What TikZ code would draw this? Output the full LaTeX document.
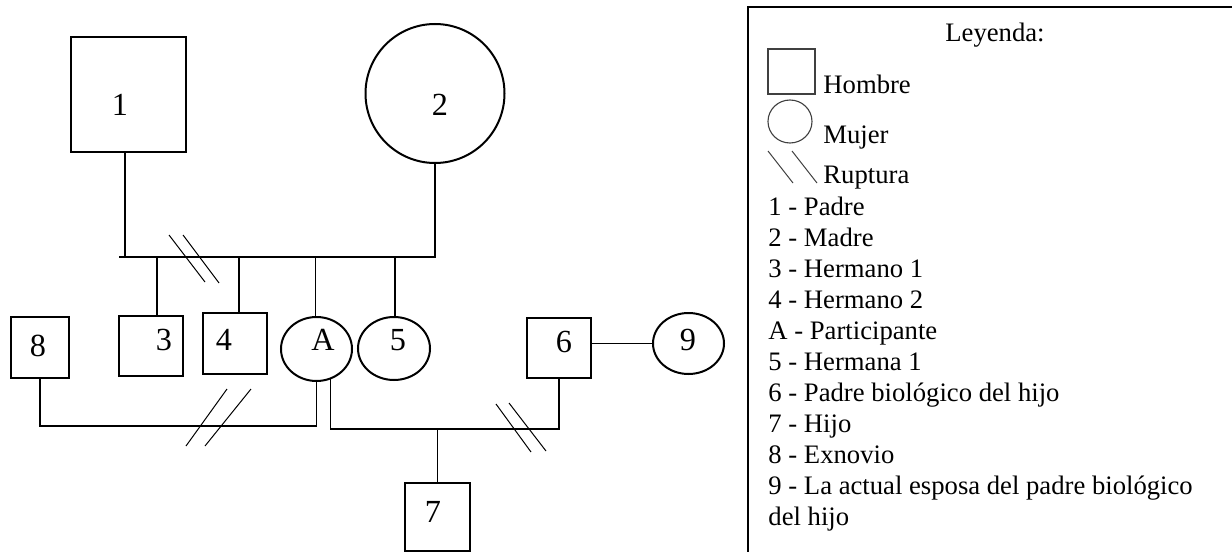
\documentclass[tikz,border=0pt]{standalone}
\usepackage{fontspec}
\setmainfont{Liberation Serif}
\usetikzlibrary{shapes.geometric}

\tikzset{
  hombre/.style 2 args={draw, rectangle, line width=0.9pt, inner sep=0pt, outer sep=0pt,
    minimum width=#1*0.45pt, minimum height=#2*0.45pt},
  mujer/.style 2 args={draw, ellipse, line width=0.9pt, inner sep=0pt, outer sep=0pt,
    minimum width=#1*0.45pt, minimum height=#2*0.45pt},
  etiqueta/.style={inner sep=0pt, font=\fontsize{14.5}{16}\selectfont},
  leyenda/.style={anchor=base west, inner sep=0pt, font=\fontsize{12}{14}\selectfont},
  simbolo/.style={draw=black!75, line width=0.5pt, inner sep=0pt, outer sep=0pt},
  enlace/.style={line width=0.5pt},
  ruptura/.style={line width=0.45pt}
}

\begin{document}
\begin{tikzpicture}[x=0.45pt, y=-0.45pt]

    \useasboundingbox (0,0) rectangle (1232,552);

    % Padres
    \node[hombre={115}{115}] (p1) at (128.5,94.5) {};
    \node[mujer={139}{139}] (p2) at (435,93.5) {};

    % Hermanos y participante
    \node[hombre={64}{60}] (h1) at (151,346) {};
    \node[hombre={64}{61}] (h2) at (235,343.5) {};
    \node[mujer={71}{64}] (pa) at (316.5,349) {};
    \node[mujer={72}{63}] (s1) at (394,348.5) {};

    % Parejas e hijo
    \node[hombre={58}{61}] (ex) at (40,347.5) {};
    \node[hombre={64}{60}] (bf) at (559,348) {};
    \node[mujer={71}{61}] (w9) at (688.5,343.5) {};
    \node[hombre={65}{68}] (ch) at (437.5,517) {};

    % Numeros
    \node[etiqueta] (t1) at (120,105) {1};
    \node[etiqueta] (t2) at (440,105) {2};
    \node[etiqueta] (t3) at (164,340) {3};
    \node[etiqueta] (t4) at (224,340) {4};
    \node[etiqueta] (tA) at (323,340) {A};
    \node[etiqueta] (t5) at (398,340) {5};
    \node[etiqueta] (t8) at (38,346) {8};
    \node[etiqueta] (t6) at (564,342) {6};
    \node[etiqueta] (t9) at (688,340) {9};
    \node[etiqueta] (t7) at (433,512) {7};

    % Linea de los padres
    \coordinate (tl) at (119,257);
    \draw[enlace] (p2.south) |- (tl);
    \draw[enlace] ([xshift=-1.6pt]p1.south) -- ([xshift=-1.6pt]p1.south |- tl);
    \foreach \n/\dx in {h1/6, h2/4, pa/-1, s1/1}
      \draw[enlace] ([xshift=\dx*0.45pt]\n.north) -- ([xshift=\dx*0.45pt]\n.north |- tl);

    % Lineas de pareja
    \draw[enlace] (ex.south) -- ++(0,48) -| (pa.south);
    \draw[enlace] (pa.-65) -- ++(0,50.5) -| (bf.south);
    \draw[enlace] (ch.north) -- ++(0,-54);
    \draw[enlace] (w9.west) -- (w9.west -| bf.east);

    % Rupturas
    \foreach \xa/\ya/\xb/\yb in {169/235/205/282, 183/235/219/283,
                                 227/389/186/446, 251/389/205/446,
                                 496/404/531/452, 509/403/546/451}
      \draw[ruptura] (\xa,\ya) -- (\xb,\yb);

    % Leyenda
    \draw[line width=0.8pt] (748,552) -- (748,7) -- (1232,7);
    \node[leyenda, anchor=base] (ley) at (995,42) {Leyenda:};
    \node[simbolo, minimum width=47*0.45pt, minimum height=45*0.45pt] (lh) at (791.5,71.5) {};
    \node[leyenda] (lhb) at (823,94) {Hombre};
    \node[simbolo, ellipse, minimum width=44*0.45pt, minimum height=43*0.45pt] (lm) at (790,121.5) {};
    \node[leyenda] (lmj) at (823,144) {Mujer};
    \draw[ruptura, black!75] (768,151) -- (793,183);
    \draw[ruptura, black!75] (792,151) -- (817,183);
    \node[leyenda] (lrp) at (823,183) {Ruptura};
    \foreach \t [count=\i] in {1 - Padre, 2 - Madre, 3 - Hermano 1, 4 - Hermano 2,
        A - Participante, 5 - Hermana 1, 6 - Padre biológico del hijo, 7 - Hijo,
        8 - Exnovio, 9 - La actual esposa del padre biológico, del hijo}
      \node[leyenda] (le\i) at (768,{215+31*(\i-1)}) {\t};

\end{tikzpicture}
\end{document}
